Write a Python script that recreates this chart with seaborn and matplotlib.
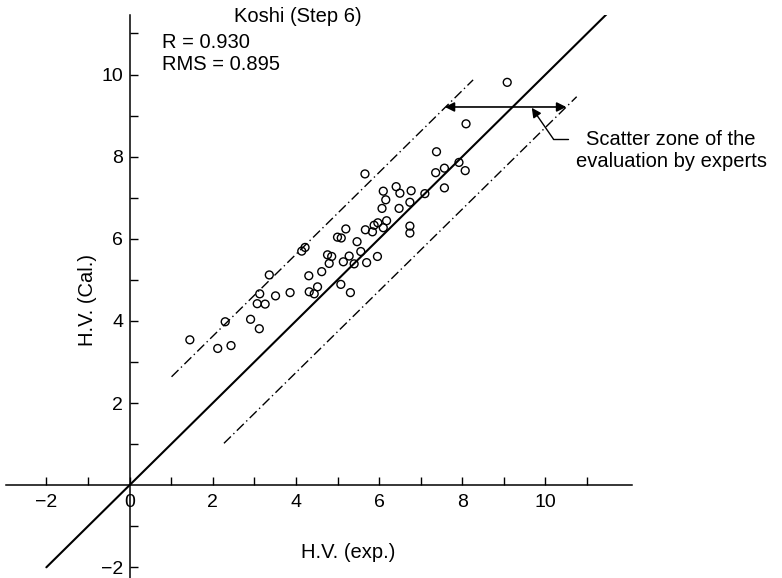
import matplotlib
matplotlib.use("Agg")
import matplotlib.pyplot as plt
import seaborn as sns
import pandas as pd

# ---- data ----
hv_exp = [4.14, 4.76, 4.86, 5.28, 5.56, 4.80, 5.14, 5.40, 5.70, 5.96,
          3.36, 4.31, 4.62, 5.08, 4.52, 3.13, 3.51, 3.86, 4.32, 4.44,
          5.31, 3.07, 3.26, 2.30, 2.91, 3.12, 1.45, 2.12, 2.44,
          7.38, 5.66, 7.92, 7.57, 7.36, 8.07, 6.41, 6.10, 6.50, 6.77,
          7.10, 7.57, 6.16, 6.74, 6.07, 6.48, 5.97, 5.88, 6.18, 6.10,
          5.67, 5.84, 5.20, 5.00, 5.09, 5.47, 6.74, 6.74, 4.22, 9.08, 8.09]
hv_cal = [5.70, 5.61, 5.57, 5.58, 5.69, 5.40, 5.44, 5.39, 5.42, 5.57,
          5.12, 5.10, 5.20, 4.89, 4.83, 4.66, 4.61, 4.69, 4.71, 4.66,
          4.69, 4.42, 4.41, 3.98, 4.04, 3.81, 3.54, 3.33, 3.40,
          8.12, 7.58, 7.86, 7.72, 7.61, 7.66, 7.27, 7.16, 7.11, 7.17,
          7.10, 7.24, 6.95, 6.89, 6.74, 6.74, 6.39, 6.33, 6.44, 6.27,
          6.22, 6.17, 6.24, 6.04, 6.02, 5.93, 6.31, 6.14, 5.79, 9.81, 8.80]

ideal_x = [-2.0, 11.6]
ideal_y = [-2.0, 11.6]
upper_x = [1.01, 8.26]
upper_y = [2.64, 9.87]
lower_x = [2.27, 10.75]
lower_y = [1.02, 9.46]

x_major = [-2, 0, 2, 4, 6, 8, 10]
x_minor = [-1, 1, 3, 5, 7, 9, 11]
y_major = [-2, 2, 4, 6, 8, 10]
y_minor = [-1, 1, 3, 5, 7, 9, 11]

title_text = "Koshi (Step 6)"
r_text = "R = 0.930"
rms_text = "RMS = 0.895"
zone_text = "Scatter zone of the\nevaluation by experts"

sns.set_style("white")
plt.rcParams["font.family"] = ["Liberation Sans", "DejaVu Sans"]
plt.rcParams["text.color"] = "black"
plt.rcParams["xtick.color"] = "black"
plt.rcParams["ytick.color"] = "black"
plt.rcParams["axes.labelcolor"] = "black"

fig = plt.figure(figsize=(7.82, 5.78), dpi=100)
ax = fig.add_axes([6 / 782, 0.0, 626 / 782, 563 / 578])

df = pd.DataFrame({"exp": hv_exp, "cal": hv_cal})
sns.scatterplot(data=df, x="exp", y="cal", ax=ax, marker="o", s=32,
                facecolor="none", edgecolor="black", linewidth=1.0, zorder=3)

ax.plot(ideal_x, ideal_y, color="black", lw=1.5, zorder=2)
ax.plot(upper_x, upper_y, color="black", lw=1.0, dashes=(7, 2.5, 1, 2.5))
ax.plot(lower_x, lower_y, color="black", lw=1.0, dashes=(7, 2.5, 1, 2.5))

# scatter zone arrow
ax.annotate("", xy=(7.58, 9.21), xytext=(10.50, 9.21),
            arrowprops=dict(arrowstyle="<|-|>", color="black", lw=1.2,
                            mutation_scale=14, shrinkA=0, shrinkB=0))
# leader from text to arrow
ax.plot([10.55, 10.19], [8.43, 8.43], color="black", lw=1.0, clip_on=False)
ax.annotate("", xy=(9.67, 9.19), xytext=(10.19, 8.43),
            arrowprops=dict(arrowstyle="-|>", color="black", lw=1.0,
                            mutation_scale=14, shrinkA=0, shrinkB=0))
ax.text(13.02, 8.15, zone_text, ha="center", va="center", fontsize=14.5,
        linespacing=1.2, multialignment="center", clip_on=False)

ax.text(4.04, 11.41, title_text, ha="center", va="center", fontsize=14.5, clip_on=False)
ax.text(0.78, 10.77, r_text, ha="left", va="center", fontsize=14.5)
ax.text(0.78, 10.24, rms_text, ha="left", va="center", fontsize=14.5)

ax.text(5.25, -1.63, "H.V. (exp.)", ha="center", va="center", fontsize=14.5)
ax.text(-1.00, 4.51, "H.V. (Cal.)", ha="center", va="center", fontsize=14.5,
        rotation=90)

ax.set_xlim(-2.97, 12.08)
ax.set_ylim(-2.26, 11.45)
ax.set_xlabel("")
ax.set_ylabel("")

for side in ["top", "right"]:
    ax.spines[side].set_visible(False)
ax.spines["left"].set_position(("data", 0))
ax.spines["bottom"].set_position(("data", 0))
for side in ["left", "bottom"]:
    ax.spines[side].set_color("black")
    ax.spines[side].set_linewidth(1.1)

ax.set_xticks(x_major)
ax.set_xticklabels(["\u22122" if v == -2 else str(v) for v in x_major])
ax.set_xticks(x_minor, minor=True)
ax.set_yticks(y_major)
ax.set_yticklabels(["\u22122" if v == -2 else str(v) for v in y_major])
ax.set_yticks(y_minor, minor=True)
ax.tick_params(which="both", bottom=True, left=True, top=False, right=False,
               direction="in", length=5.5, width=1.0,
               color="black", labelcolor="black", labelsize=14)
ax.tick_params(axis="x", which="major", pad=6)
ax.tick_params(axis="y", which="major", pad=4.5)
ax.tick_params(which="minor", labelbottom=False, labelleft=False)
ax.patch.set_alpha(0)

fig.savefig("out.png", dpi=100)
